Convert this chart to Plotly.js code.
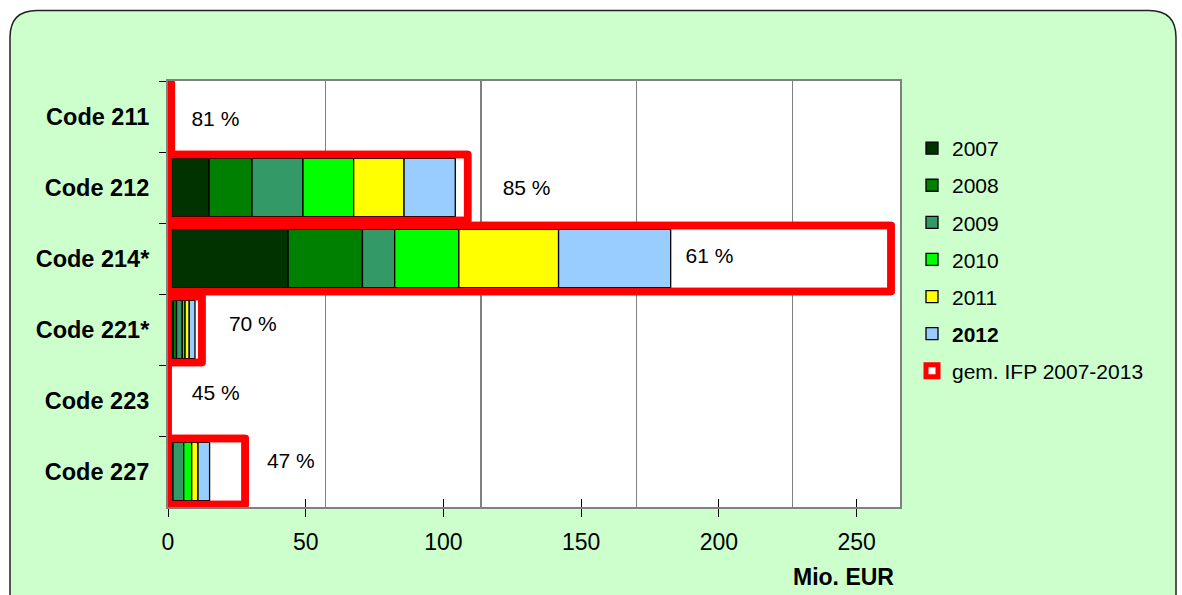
<!DOCTYPE html>
<html><head><meta charset="utf-8">
<script src="https://cdn.plot.ly/plotly-3.0.1.min.js"></script>
<style>html,body{margin:0;padding:0;background:#fff}#chart{width:1182px;height:595px}
.barlayer path{stroke-linejoin:round}</style>
</head><body><div id="chart"></div>
<script>
// ---- data ----
const categories = ['Code 211', 'Code 212', 'Code 214*', 'Code 221*', 'Code 223', 'Code 227'];
const years = ['2007', '2008', '2009', '2010', '2011', '2012'];
const v2007 = [0, 14.9, 43.6, 1.9, 0, 1.0];
const v2008 = [0, 15.6, 27.0, 1.2, 0, 0.8];
const v2009 = [0, 18.5, 11.7, 2.1, 0, 3.9];
const v2010 = [0, 18.4, 23.3, 1.0, 0, 2.9];
const v2011 = [0, 18.3, 36.2, 1.5, 0, 2.3];
const v2012 = [0, 18.6, 40.7, 2.1, 0, 4.2];
const ifpTotal = [1.2, 108.8, 262.5, 12.3, 0, 28.0];
const ifpName = 'gem. IFP 2007-2013';
const pctLabels = ['81 %', '85 %', '61 %', '70 %', '45 %', '47 %'];
const pctLabelX = [17.2, 130.2, 196.6, 30.8, 17.3, 44.6];
const xTickVals = [0, 50, 100, 150, 200, 250];

// ---- styling ----
const yearColors = ['#003300', '#008000', '#339966', '#00FF00', '#FFFF00', '#99CCFF'];
const FONT = 'Liberation Sans, Arial, sans-serif';
const series = [v2007, v2008, v2009, v2010, v2011, v2012];

const W = 1182, H = 595, ML = 168, MR = 282, MT = 81, MB = 88;
const PW = W - ML - MR, PH = H - MT - MB;
const X = px => (px - ML) / PW;
const Y = py => (H - MB - py) / PH;

const traces = [];
// IFP background (white fill)
traces.push({
  type: 'bar', orientation: 'h', y: categories, x: ifpTotal, width: 0.93,
  marker: {color: '#FFFFFF', line: {color: '#FF0000', width: 7.5}},
  name: ifpName, legendgroup: 'ifp', legendrank: 7, hoverinfo: 'skip'
});
// stacked year segments
const cum = categories.map(() => 0);
series.forEach((vals, i) => {
  traces.push({
    type: 'bar', orientation: 'h', y: categories, x: vals.slice(), base: cum.slice(),
    width: 0.82,
    marker: {color: yearColors[i], line: {color: '#000000', width: 1.3}},
    name: i === 5 ? '<b>' + years[i] + '</b>' : years[i],
    legendgroup: 'g' + years[i], legendrank: i + 1, hoverinfo: 'x+name'
  });
  vals.forEach((v, k) => { cum[k] += v; });
});
// IFP outline on top
traces.push({
  type: 'bar', orientation: 'h', y: categories, x: ifpTotal, width: 0.93,
  marker: {color: 'rgba(0,0,0,0)', line: {color: '#FF0000', width: 7.5}},
  showlegend: false, legendgroup: 'ifp', hoverinfo: 'skip'
});
// percent labels (own label band, slightly tighter spacing as in the original)
traces.push({
  type: 'scatter', mode: 'text', x: pctLabelX, y: categories, yaxis: 'y2', text: pctLabels,
  textposition: 'middle center', textfont: {family: FONT, size: 21, color: '#000'},
  showlegend: false, hoverinfo: 'skip', cliponaxis: false
});
// helper traces for extra axes
traces.push({type: 'scatter', x: [], y: [], xaxis: 'x2', showlegend: false, hoverinfo: 'skip'});
traces.push({type: 'scatter', x: [], y: [], xaxis: 'x3', showlegend: false, hoverinfo: 'skip'});

const xMax = PW / ((857 - 168.4) / 250);
const labTop = 121, labStep = 68.4;
const R = 27, bx0 = 10, by0 = 10.5, bx1 = 1176, by1 = 640;
const borderPath = `M ${X(bx0)},${Y(by1)} L ${X(bx0)},${Y(by0 + R)} Q ${X(bx0)},${Y(by0)} ${X(bx0 + R)},${Y(by0)} ` +
  `L ${X(bx1 - R)},${Y(by0)} Q ${X(bx1)},${Y(by0)} ${X(bx1)},${Y(by0 + R)} L ${X(bx1)},${Y(by1)} Z`;

const layout = {
  width: W, height: H,
  margin: {l: ML, r: MR, t: MT, b: MB, pad: 0},
  paper_bgcolor: '#FFFFFF', plot_bgcolor: '#FFFFFF',
  barmode: 'overlay',
  font: {family: FONT, color: '#000'},
  showlegend: true,
  xaxis: {
    range: [0, xMax], tickvals: xTickVals, ticktext: xTickVals.map(String),
    ticks: 'outside', ticklen: 8, tickcolor: '#000', tickwidth: 1, ticklabelstandoff: 5,
    showgrid: false, zeroline: false, showline: true, linecolor: '#808080', linewidth: 2, mirror: true,
    tickfont: {family: FONT, size: 23, color: '#000'}, fixedrange: true
  },
  xaxis2: {
    overlaying: 'x', anchor: 'y', side: 'bottom', range: [-0.01, PW / 155.7 - 0.01], dtick: 1, tick0: 0,
    showgrid: true, gridcolor: '#808080', gridwidth: 1.5, showticklabels: false, ticks: '',
    zeroline: false, showline: false
  },
  xaxis3: {
    overlaying: 'x', anchor: 'y', side: 'bottom', range: [0, xMax], tickvals: xTickVals,
    ticks: 'inside', ticklen: 8, tickcolor: '#000', tickwidth: 1, showticklabels: false,
    showgrid: false, zeroline: false, showline: false
  },
  yaxis: {
    type: 'category', categoryorder: 'array', categoryarray: categories,
    range: [5.5, -0.5], tickson: 'boundaries', ticks: 'outside', ticklen: 7, tickcolor: '#000',
    showgrid: false, zeroline: false, showline: true, linecolor: '#808080', linewidth: 2, mirror: true,
    tickfont: {family: FONT, size: 23.5, color: '#000', weight: 'bold'}, ticklabelstandoff: 12, fixedrange: true
  },
  yaxis2: {
    type: 'category', categoryorder: 'array', categoryarray: categories, overlaying: 'y', anchor: 'x',
    range: [(PH + MT - labTop) / labStep, (MT - labTop) / labStep],
    showticklabels: false, ticks: '', showgrid: false, zeroline: false, showline: false
  },
  legend: {
    x: X(912), y: Y(128), xanchor: 'left', yanchor: 'top',
    bgcolor: 'rgba(0,0,0,0)', font: {family: FONT, size: 21, color: '#000'},
    tracegroupgap: 6.8, itemwidth: 30, traceorder: 'grouped'
  },
  shapes: [
    {type: 'path', xref: 'paper', yref: 'paper', path: borderPath, fillcolor: '#CCFFCC',
     line: {color: '#222222', width: 1.5}, layer: 'below'},
    {type: 'rect', xref: 'paper', yref: 'paper', x0: 0, x1: 1, y0: 0, y1: 1,
     fillcolor: '#FFFFFF', line: {width: 0}, layer: 'below'}
  ],
  annotations: [
    {text: '<b>Mio. EUR</b>', xref: 'paper', yref: 'paper', x: X(896), y: Y(577),
     xanchor: 'right', yanchor: 'middle', showarrow: false, font: {family: FONT, size: 23, color: '#000'}}
  ]
};

Plotly.newPlot('chart', traces, layout, {displayModeBar: false, staticPlot: true});
</script></body></html>
